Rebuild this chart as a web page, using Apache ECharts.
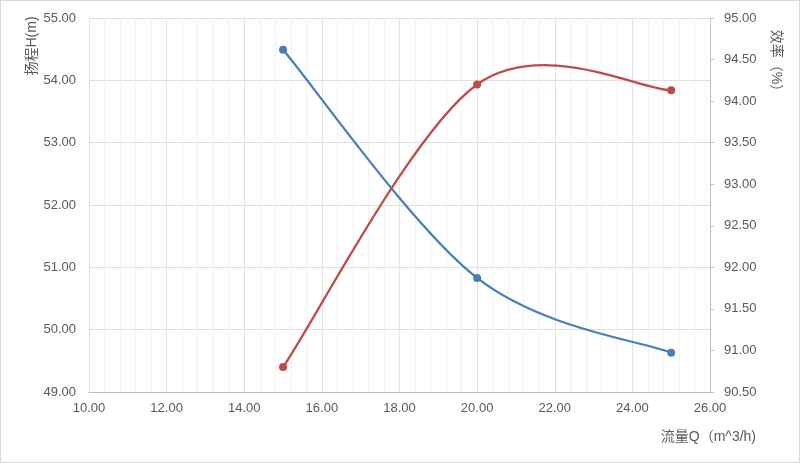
<!DOCTYPE html>
<html><head><meta charset="utf-8">
<script src="https://cdn.jsdelivr.net/npm/echarts@6/dist/echarts.min.js"></script>
<style>html,body{margin:0;padding:0;background:#fff}#c{width:798px;height:461px;border:1px solid #d9d9d9}</style>
</head><body><div id="c"></div>
<script>
const flowQ = [15, 20, 25];
const headH = [54.49, 50.83, 49.63];
const efficiency = [90.80, 94.20, 94.13];
const xTitle = '流量Q（m^3/h)';
const leftTitle = '扬程H(m)';
const rightTitle = '效率（%）';

const chart = echarts.init(document.getElementById('c'), null, {renderer: 'canvas'});
const font = 'Liberation Sans, Noto Sans CJK SC, sans-serif';
const txt = '#595959';

// Smoothed curve (cardinal spline, like a spreadsheet "smoothed line") drawn via axis coords
function splineSeries(ys, yIdx, color) {
  return {
    type: 'custom', yAxisIndex: yIdx, silent: true, z: 2,
    data: flowQ.map((q, i) => [q, ys[i]]),
    encode: {x: 0, y: 1},
    renderItem: function (params, api) {
      const i = params.dataIndex;
      if (i >= flowQ.length - 1) return null;
      const pt = k => {
        const kk = Math.max(0, Math.min(flowQ.length - 1, k));
        return api.coord([flowQ[kk], ys[kk]]);
      };
      const p0 = pt(i - 1), p1 = pt(i), p2 = pt(i + 1), p3 = pt(i + 2);
      const c1 = [p1[0] + (p2[0] - p0[0]) / 6, p1[1] + (p2[1] - p0[1]) / 6];
      const c2 = [p2[0] - (p3[0] - p1[0]) / 6, p2[1] - (p3[1] - p1[1]) / 6];
      return {
        type: 'bezierCurve',
        shape: {x1: p1[0], y1: p1[1], cpx1: c1[0], cpy1: c1[1], cpx2: c2[0], cpy2: c2[1], x2: p2[0], y2: p2[1]},
        style: {stroke: color, lineWidth: 2.25, fill: null, lineCap: 'round'}
      };
    }
  };
}
function pointSeries(ys, yIdx, color) {
  return {
    type: 'scatter', yAxisIndex: yIdx, z: 3,
    data: flowQ.map((q, i) => [q, ys[i]]),
    symbol: 'circle', symbolSize: 8,
    itemStyle: {color: color, opacity: 1}
  };
}
const blue = '#4a7ebb', red = '#be4b48';

chart.setOption({
  animation: false,
  textStyle: {fontFamily: font},
  grid: {left: 88, right: 89, top: 17, bottom: 70},
  xAxis: {
    type: 'value', min: 10, max: 26, interval: 2,
    axisLine: {show: true, lineStyle: {color: '#bfbfbf', width: 1}},
    axisTick: {show: false},
    axisLabel: {color: txt, fontSize: 13, margin: 10, formatter: v => v.toFixed(2), fontFamily: font},
    splitLine: {show: true, lineStyle: {color: '#e3e3e3', width: 1}},
    minorTick: {show: false, splitNumber: 5},
    minorSplitLine: {show: true, lineStyle: {color: '#f2f2f2', width: 1}},
    name: xTitle, nameLocation: 'end', nameGap: 46,
    nameTextStyle: {color: txt, fontSize: 14, align: 'right', verticalAlign: 'top', padding: [38, 0, 0, 0], fontFamily: font}
  },
  yAxis: [{
    type: 'value', min: 49, max: 55, interval: 1,
    axisLine: {show: false}, axisTick: {show: false},
    axisLabel: {color: txt, fontSize: 13, margin: 13, formatter: v => v.toFixed(2), fontFamily: font},
    splitLine: {show: true, lineStyle: {color: '#dedede', width: 1}}
  }, {
    type: 'value', min: 90.5, max: 95, interval: 0.5, position: 'right',
    axisLine: {show: true, lineStyle: {color: '#bfbfbf', width: 1}},
    axisTick: {show: true, length: 4, lineStyle: {color: '#bfbfbf'}},
    axisLabel: {color: txt, fontSize: 13, margin: 14, formatter: v => v.toFixed(2), fontFamily: font},
    splitLine: {show: false}
  }],
  graphic: [
    {type: 'text', x: 31, y: 45, rotation: Math.PI / 2,
     style: {text: leftTitle, fill: txt, font: '14px ' + font, textAlign: 'center', textVerticalAlign: 'middle'}},
    {type: 'text', x: 775, y: 63, rotation: -Math.PI / 2,
     style: {text: rightTitle, fill: txt, font: '14px ' + font, textAlign: 'center', textVerticalAlign: 'middle'}}
  ],
  series: [
    splineSeries(headH, 0, blue), pointSeries(headH, 0, blue),
    splineSeries(efficiency, 1, red), pointSeries(efficiency, 1, red)
  ]
});
</script></body></html>
